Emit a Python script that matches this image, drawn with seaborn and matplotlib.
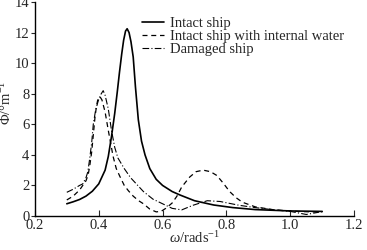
import matplotlib
matplotlib.use("Agg")
import matplotlib.pyplot as plt
import seaborn as sns
import pandas as pd

# Intact ship
w_intact = [0.30, 0.32, 0.34, 0.36, 0.38, 0.40, 0.42, 0.43, 0.44, 0.45, 0.458, 0.465,
            0.472, 0.478, 0.484, 0.489, 0.495, 0.501, 0.508, 0.515, 0.524, 0.534,
            0.545, 0.56, 0.58, 0.60, 0.63, 0.655, 0.70, 0.76, 0.82, 0.89, 1.00, 1.10]
phi_intact = [0.80, 0.93, 1.08, 1.3, 1.62, 2.1, 3.0, 3.9, 5.2, 6.7, 8.1, 9.4,
              10.6, 11.5, 12.1, 12.25, 12.0, 11.4, 10.4, 8.45, 6.3, 4.9,
              4.0, 3.1, 2.4, 2.0, 1.6, 1.37, 1.0, 0.72, 0.55, 0.42, 0.33, 0.3]

# Intact ship with internal water
w_water = [0.30, 0.32, 0.34, 0.35, 0.36, 0.367, 0.372, 0.378, 0.383, 0.388, 0.393,
           0.398, 0.404, 0.41, 0.42, 0.43, 0.445, 0.455, 0.466, 0.48, 0.493, 0.508,
           0.525, 0.54, 0.56, 0.58, 0.595, 0.61, 0.63, 0.645, 0.66, 0.685, 0.705,
           0.727, 0.75, 0.77, 0.79, 0.81, 0.83, 0.85, 0.89, 0.95, 1.02, 1.10]
phi_water = [1.05, 1.3, 1.7, 2.0, 2.3, 2.7, 3.3, 4.2, 5.3, 6.4, 7.2,
             7.7, 7.8, 7.6, 6.8, 5.6, 3.9, 3.1, 2.6, 2.0, 1.65, 1.3,
             1.0, 0.8, 0.45, 0.27, 0.3, 0.5, 0.85, 1.3, 1.9, 2.55, 2.9,
             3.0, 2.9, 2.65, 2.15, 1.6, 1.2, 0.9, 0.6, 0.4, 0.3, 0.25]

# Damaged ship
w_damaged = [0.30, 0.32, 0.34, 0.35, 0.36, 0.366, 0.372, 0.378, 0.383, 0.39, 0.398,
             0.405, 0.414, 0.42, 0.43, 0.44, 0.45, 0.46, 0.48, 0.50, 0.54, 0.57,
             0.59, 0.63, 0.66, 0.695, 0.74, 0.78, 0.84, 0.89, 0.95, 1.00, 1.05, 1.09]
phi_damaged = [1.55, 1.75, 2.0, 2.1, 2.5, 2.9, 3.8, 4.8, 6.0, 6.9, 7.5,
               7.9, 8.2, 7.9, 7.0, 5.6, 4.5, 3.8, 3.1, 2.5, 1.6, 1.1,
               0.9, 0.5, 0.4, 0.7, 1.0, 0.95, 0.7, 0.55, 0.4, 0.3, 0.1, 0.25]

sns.set_style("ticks")
plt.rcParams["font.family"] = ["Liberation Serif", "DejaVu Serif"]
plt.rcParams["mathtext.fontset"] = "custom"
plt.rcParams["mathtext.rm"] = "Liberation Serif"
plt.rcParams["mathtext.it"] = "Liberation Serif:italic"

fig, ax = plt.subplots(figsize=(3.67, 2.5), dpi=100)
fig.subplots_adjust(left=0.095, right=0.965, bottom=0.136, top=0.992)

df_i = pd.DataFrame({"w": w_intact, "phi": phi_intact})
df_w = pd.DataFrame({"w": w_water, "phi": phi_water})
df_d = pd.DataFrame({"w": w_damaged, "phi": phi_damaged})

sns.lineplot(data=df_i, x="w", y="phi", ax=ax, color="black", lw=1.2,
             label="Intact ship")
sns.lineplot(data=df_w, x="w", y="phi", ax=ax, color="black", lw=0.9,
             label="Intact ship with internal water")
ax.lines[-1].set_linestyle((0, (4, 3)))
sns.lineplot(data=df_d, x="w", y="phi", ax=ax, color="black", lw=0.8,
             label="Damaged ship")
ax.lines[-1].set_linestyle((0, (6, 2, 1, 2)))

ax.set_xlim(0.2, 1.2)
ax.set_ylim(0, 14)
ax.set_xticks([0.2, 0.4, 0.6, 0.8, 1.0, 1.2])
ax.set_xticklabels(["0.2", "0.4", "0.6", "0.8", "1.0", "1.2"])
ax.set_yticks(range(0, 15, 2))
ax.tick_params(axis="x", direction="in", length=4, labelsize=10.5, pad=2)
ax.tick_params(axis="y", direction="out", length=3, labelsize=10.5, pad=1)
sns.despine(ax=ax)
for s in ["left", "bottom"]:
    ax.spines[s].set_linewidth(1.0)
    ax.spines[s].set_color("black")

ax.set_xlabel(r"$\omega$/rads$^{-1}$", fontsize=10.5, labelpad=-1)
ax.set_ylabel(r"$\mathit{\Phi}$/°m$^{-1}$", fontsize=10.5, labelpad=0)
ax.yaxis.set_label_coords(-0.064, 0.53)

leg = ax.legend(loc="upper right", bbox_to_anchor=(0.995, 0.972), frameon=False,
                fontsize=10.5, handlelength=1.5, handletextpad=0.4,
                labelspacing=0.0, borderaxespad=0.2)
for h in leg.get_lines():
    h.set_color("black")

fig.savefig("out.png", dpi=100)
